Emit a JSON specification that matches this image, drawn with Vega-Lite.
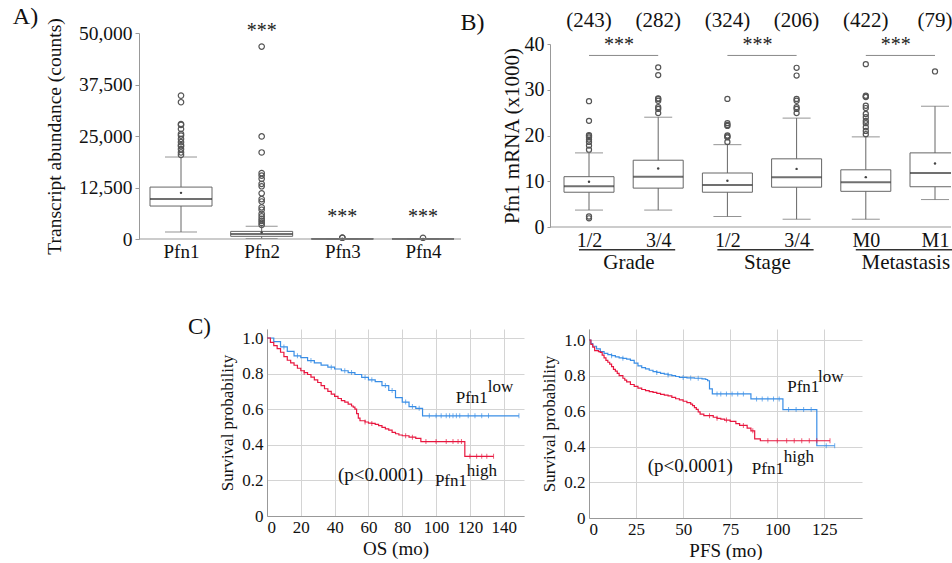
{
"$schema": "https://vega.github.io/schema/vega-lite/v6.json",
"background": "white",
"padding": {"left": 12, "top": 5, "right": 0, "bottom": 0},
"config": {
  "font": "Liberation Serif",
  "view": {"stroke": null},
  "axis": {"labelFont": "Liberation Serif", "titleFont": "Liberation Serif", "titleFontWeight": "normal", "labelColor": "#111", "titleColor": "#111", "domainColor": "#999", "tickColor": "#999"}
},
"datasets": {
  "aBox": [
    {"g": "Pfn1", "lo": 1700, "q1": 8000, "med": 9700, "q3": 12600, "hi": 19900, "mean": 11200},
    {"g": "Pfn2", "lo": 100, "q1": 650, "med": 1200, "q3": 1850, "hi": 3100, "mean": 1600},
    {"g": "Pfn3", "lo": 0, "q1": 0, "med": 30, "q3": 60, "hi": 100, "mean": 40},
    {"g": "Pfn4", "lo": 0, "q1": 0, "med": 20, "q3": 40, "hi": 80, "mean": 30}
  ],
  "aOut": [
    {"g": "Pfn1", "v": 34800}, {"g": "Pfn1", "v": 33200}, {"g": "Pfn1", "v": 27900}, {"g": "Pfn1", "v": 27700},
    {"g": "Pfn1", "v": 26700}, {"g": "Pfn1", "v": 25500}, {"g": "Pfn1", "v": 25100}, {"g": "Pfn1", "v": 24300},
    {"g": "Pfn1", "v": 23500}, {"g": "Pfn1", "v": 22800}, {"g": "Pfn1", "v": 22500}, {"g": "Pfn1", "v": 21800},
    {"g": "Pfn1", "v": 21000}, {"g": "Pfn1", "v": 20400},
    {"g": "Pfn2", "v": 46700}, {"g": "Pfn2", "v": 24900}, {"g": "Pfn2", "v": 21000}, {"g": "Pfn2", "v": 16000},
    {"g": "Pfn2", "v": 15400}, {"g": "Pfn2", "v": 14600}, {"g": "Pfn2", "v": 13400}, {"g": "Pfn2", "v": 12800},
    {"g": "Pfn2", "v": 11100}, {"g": "Pfn2", "v": 9700}, {"g": "Pfn2", "v": 9100}, {"g": "Pfn2", "v": 7700},
    {"g": "Pfn2", "v": 7100}, {"g": "Pfn2", "v": 6100}, {"g": "Pfn2", "v": 5500}, {"g": "Pfn2", "v": 4900},
    {"g": "Pfn2", "v": 4400}, {"g": "Pfn2", "v": 3900}, {"g": "Pfn2", "v": 3400},
    {"g": "Pfn3", "v": 300}, {"g": "Pfn3", "v": 350},
    {"g": "Pfn4", "v": 300}
  ],
  "aStar": [{"g": "Pfn2", "v": 49000}, {"g": "Pfn3", "v": 3900}, {"g": "Pfn4", "v": 3900}],
  "bBox": [
    {"c": "G1", "lo": 3.7, "q1": 7.6, "med": 8.9, "q3": 11.0, "hi": 16.2, "mean": 9.9, "n": "(243)"},
    {"c": "G2", "lo": 3.7, "q1": 8.5, "med": 11.0, "q3": 14.6, "hi": 24.0, "mean": 12.8, "n": "(282)"},
    {"c": "S1", "lo": 2.3, "q1": 7.6, "med": 9.2, "q3": 11.8, "hi": 18.0, "mean": 10.1, "n": "(324)"},
    {"c": "S2", "lo": 1.7, "q1": 8.7, "med": 10.9, "q3": 14.9, "hi": 23.8, "mean": 12.7, "n": "(206)"},
    {"c": "M0", "lo": 1.7, "q1": 7.8, "med": 9.8, "q3": 12.5, "hi": 19.7, "mean": 10.9, "n": "(422)"},
    {"c": "M1", "lo": 6.0, "q1": 8.8, "med": 11.8, "q3": 16.2, "hi": 26.4, "mean": 13.9, "n": "(79)"}
  ],
  "bOut": [
    {"c": "G1", "v": 27.5}, {"c": "G1", "v": 23.2}, {"c": "G1", "v": 20.1}, {"c": "G1", "v": 19.9}, {"c": "G1", "v": 19.6},
    {"c": "G1", "v": 19.1}, {"c": "G1", "v": 18.6}, {"c": "G1", "v": 17.8}, {"c": "G1", "v": 16.9}, {"c": "G1", "v": 2.3}, {"c": "G1", "v": 1.9},
    {"c": "G2", "v": 34.9}, {"c": "G2", "v": 33.2}, {"c": "G2", "v": 28.1}, {"c": "G2", "v": 28.0}, {"c": "G2", "v": 27.6},
    {"c": "G2", "v": 26.2}, {"c": "G2", "v": 25.8}, {"c": "G2", "v": 24.9},
    {"c": "S1", "v": 28.0}, {"c": "S1", "v": 22.7}, {"c": "S1", "v": 22.3}, {"c": "S1", "v": 22.1}, {"c": "S1", "v": 20.0},
    {"c": "S1", "v": 19.8}, {"c": "S1", "v": 19.6}, {"c": "S1", "v": 18.6},
    {"c": "S2", "v": 34.8}, {"c": "S2", "v": 33.1}, {"c": "S2", "v": 28.0}, {"c": "S2", "v": 27.6}, {"c": "S2", "v": 26.2},
    {"c": "S2", "v": 25.8}, {"c": "S2", "v": 24.9},
    {"c": "M0", "v": 35.6}, {"c": "M0", "v": 28.7}, {"c": "M0", "v": 28.5}, {"c": "M0", "v": 28.4}, {"c": "M0", "v": 26.5},
    {"c": "M0", "v": 26.0}, {"c": "M0", "v": 24.7}, {"c": "M0", "v": 24.0}, {"c": "M0", "v": 23.2}, {"c": "M0", "v": 22.7},
    {"c": "M0", "v": 21.8}, {"c": "M0", "v": 21.0}, {"c": "M0", "v": 20.3},
    {"c": "M1", "v": 34.0}
  ],
  "bGroup": [
    {"a": "G1", "b": "G2", "label": "Grade"},
    {"a": "S1", "b": "S2", "label": "Stage"},
    {"a": "M0", "b": "M1", "label": "Metastasis"}
  ],
  "c1": [
    {"g": "low", "t": 0, "s": 1, "c": 0}, {"g": "low", "t": 4, "s": 0.98, "c": 0}, {"g": "low", "t": 8, "s": 0.95, "c": 0},
    {"g": "low", "t": 10, "s": 0.95, "c": 1}, {"g": "low", "t": 12, "s": 0.925, "c": 0}, {"g": "low", "t": 16, "s": 0.9, "c": 0},
    {"g": "low", "t": 18, "s": 0.9, "c": 1}, {"g": "low", "t": 20, "s": 0.89, "c": 0}, {"g": "low", "t": 24, "s": 0.873, "c": 0},
    {"g": "low", "t": 26, "s": 0.873, "c": 1}, {"g": "low", "t": 28, "s": 0.86, "c": 0}, {"g": "low", "t": 32, "s": 0.848, "c": 0},
    {"g": "low", "t": 36, "s": 0.836, "c": 0}, {"g": "low", "t": 38, "s": 0.836, "c": 1}, {"g": "low", "t": 40, "s": 0.826, "c": 0},
    {"g": "low", "t": 44, "s": 0.816, "c": 0}, {"g": "low", "t": 46, "s": 0.816, "c": 1}, {"g": "low", "t": 48, "s": 0.806, "c": 0},
    {"g": "low", "t": 50, "s": 0.806, "c": 1}, {"g": "low", "t": 52, "s": 0.795, "c": 0}, {"g": "low", "t": 56, "s": 0.779, "c": 0},
    {"g": "low", "t": 58, "s": 0.779, "c": 1}, {"g": "low", "t": 60, "s": 0.765, "c": 0}, {"g": "low", "t": 62, "s": 0.765, "c": 1},
    {"g": "low", "t": 64, "s": 0.755, "c": 0}, {"g": "low", "t": 68, "s": 0.733, "c": 0}, {"g": "low", "t": 70, "s": 0.733, "c": 1},
    {"g": "low", "t": 72, "s": 0.705, "c": 0}, {"g": "low", "t": 74, "s": 0.705, "c": 1}, {"g": "low", "t": 76, "s": 0.665, "c": 0},
    {"g": "low", "t": 80, "s": 0.64, "c": 0}, {"g": "low", "t": 82, "s": 0.64, "c": 1}, {"g": "low", "t": 84, "s": 0.615, "c": 0},
    {"g": "low", "t": 86, "s": 0.615, "c": 1}, {"g": "low", "t": 88, "s": 0.605, "c": 0}, {"g": "low", "t": 90, "s": 0.605, "c": 1},
    {"g": "low", "t": 92, "s": 0.563, "c": 0}, {"g": "low", "t": 96, "s": 0.563, "c": 1}, {"g": "low", "t": 100, "s": 0.563, "c": 1},
    {"g": "low", "t": 103, "s": 0.563, "c": 1}, {"g": "low", "t": 106, "s": 0.563, "c": 1}, {"g": "low", "t": 108, "s": 0.563, "c": 1},
    {"g": "low", "t": 110, "s": 0.563, "c": 1}, {"g": "low", "t": 112, "s": 0.563, "c": 1}, {"g": "low", "t": 114, "s": 0.563, "c": 1},
    {"g": "low", "t": 119, "s": 0.563, "c": 1}, {"g": "low", "t": 123, "s": 0.563, "c": 1}, {"g": "low", "t": 127, "s": 0.563, "c": 1},
    {"g": "low", "t": 131, "s": 0.563, "c": 1}, {"g": "low", "t": 149, "s": 0.563, "c": 1},
    {"g": "high", "t": 0, "s": 1, "c": 0}, {"g": "high", "t": 2, "s": 0.975, "c": 0}, {"g": "high", "t": 4, "s": 0.957, "c": 0},
    {"g": "high", "t": 6, "s": 0.94, "c": 0}, {"g": "high", "t": 8, "s": 0.92, "c": 0}, {"g": "high", "t": 10, "s": 0.895, "c": 0},
    {"g": "high", "t": 12, "s": 0.875, "c": 0}, {"g": "high", "t": 14, "s": 0.86, "c": 0}, {"g": "high", "t": 16, "s": 0.847, "c": 0},
    {"g": "high", "t": 18, "s": 0.83, "c": 0}, {"g": "high", "t": 20, "s": 0.816, "c": 0}, {"g": "high", "t": 22, "s": 0.806, "c": 1},
    {"g": "high", "t": 24, "s": 0.795, "c": 0}, {"g": "high", "t": 26, "s": 0.78, "c": 0}, {"g": "high", "t": 28, "s": 0.765, "c": 0},
    {"g": "high", "t": 30, "s": 0.75, "c": 0}, {"g": "high", "t": 32, "s": 0.732, "c": 0}, {"g": "high", "t": 34, "s": 0.715, "c": 0},
    {"g": "high", "t": 36, "s": 0.7, "c": 0}, {"g": "high", "t": 38, "s": 0.685, "c": 0}, {"g": "high", "t": 40, "s": 0.672, "c": 0},
    {"g": "high", "t": 42, "s": 0.66, "c": 0}, {"g": "high", "t": 44, "s": 0.648, "c": 0}, {"g": "high", "t": 46, "s": 0.64, "c": 0},
    {"g": "high", "t": 48, "s": 0.628, "c": 0}, {"g": "high", "t": 50, "s": 0.618, "c": 0}, {"g": "high", "t": 51, "s": 0.612, "c": 0},
    {"g": "high", "t": 52, "s": 0.6, "c": 0}, {"g": "high", "t": 53, "s": 0.575, "c": 0}, {"g": "high", "t": 54, "s": 0.55, "c": 0},
    {"g": "high", "t": 55, "s": 0.535, "c": 0}, {"g": "high", "t": 58, "s": 0.528, "c": 1}, {"g": "high", "t": 60, "s": 0.522, "c": 0},
    {"g": "high", "t": 62, "s": 0.52, "c": 1}, {"g": "high", "t": 64, "s": 0.515, "c": 0}, {"g": "high", "t": 66, "s": 0.508, "c": 0},
    {"g": "high", "t": 68, "s": 0.498, "c": 0}, {"g": "high", "t": 70, "s": 0.49, "c": 0}, {"g": "high", "t": 72, "s": 0.482, "c": 0},
    {"g": "high", "t": 74, "s": 0.47, "c": 0}, {"g": "high", "t": 76, "s": 0.462, "c": 0}, {"g": "high", "t": 78, "s": 0.455, "c": 0},
    {"g": "high", "t": 80, "s": 0.451, "c": 0}, {"g": "high", "t": 82, "s": 0.451, "c": 1}, {"g": "high", "t": 84, "s": 0.443, "c": 0},
    {"g": "high", "t": 86, "s": 0.443, "c": 1}, {"g": "high", "t": 88, "s": 0.436, "c": 0}, {"g": "high", "t": 91, "s": 0.418, "c": 0},
    {"g": "high", "t": 94, "s": 0.418, "c": 1}, {"g": "high", "t": 100, "s": 0.418, "c": 1}, {"g": "high", "t": 106, "s": 0.418, "c": 1},
    {"g": "high", "t": 110, "s": 0.418, "c": 1}, {"g": "high", "t": 113, "s": 0.418, "c": 1}, {"g": "high", "t": 115, "s": 0.418, "c": 1},
    {"g": "high", "t": 117, "s": 0.335, "c": 0}, {"g": "high", "t": 120, "s": 0.335, "c": 1}, {"g": "high", "t": 124, "s": 0.335, "c": 1},
    {"g": "high", "t": 127, "s": 0.335, "c": 1}, {"g": "high", "t": 130, "s": 0.335, "c": 1}, {"g": "high", "t": 134, "s": 0.335, "c": 1}
  ],
  "c2": [
    {"g": "low", "t": 0, "s": 1, "c": 0}, {"g": "low", "t": 1, "s": 0.98, "c": 0}, {"g": "low", "t": 2, "s": 0.965, "c": 0},
    {"g": "low", "t": 4, "s": 0.95, "c": 0}, {"g": "low", "t": 6, "s": 0.935, "c": 0}, {"g": "low", "t": 8, "s": 0.925, "c": 0},
    {"g": "low", "t": 10, "s": 0.918, "c": 0}, {"g": "low", "t": 12, "s": 0.912, "c": 1}, {"g": "low", "t": 14, "s": 0.905, "c": 0},
    {"g": "low", "t": 16, "s": 0.9, "c": 0}, {"g": "low", "t": 18, "s": 0.897, "c": 1}, {"g": "low", "t": 20, "s": 0.893, "c": 0},
    {"g": "low", "t": 22, "s": 0.885, "c": 0}, {"g": "low", "t": 24, "s": 0.87, "c": 0}, {"g": "low", "t": 26, "s": 0.855, "c": 0},
    {"g": "low", "t": 28, "s": 0.845, "c": 0}, {"g": "low", "t": 30, "s": 0.838, "c": 0}, {"g": "low", "t": 32, "s": 0.83, "c": 0},
    {"g": "low", "t": 34, "s": 0.822, "c": 0}, {"g": "low", "t": 36, "s": 0.818, "c": 1}, {"g": "low", "t": 38, "s": 0.812, "c": 0},
    {"g": "low", "t": 40, "s": 0.808, "c": 0}, {"g": "low", "t": 42, "s": 0.804, "c": 1}, {"g": "low", "t": 44, "s": 0.8, "c": 0},
    {"g": "low", "t": 46, "s": 0.795, "c": 0}, {"g": "low", "t": 48, "s": 0.79, "c": 0}, {"g": "low", "t": 50, "s": 0.79, "c": 1},
    {"g": "low", "t": 52, "s": 0.787, "c": 0}, {"g": "low", "t": 54, "s": 0.787, "c": 1}, {"g": "low", "t": 56, "s": 0.785, "c": 0},
    {"g": "low", "t": 58, "s": 0.785, "c": 1}, {"g": "low", "t": 60, "s": 0.782, "c": 0}, {"g": "low", "t": 62, "s": 0.778, "c": 0},
    {"g": "low", "t": 63, "s": 0.771, "c": 0}, {"g": "low", "t": 64, "s": 0.725, "c": 0}, {"g": "low", "t": 65.5, "s": 0.697, "c": 0},
    {"g": "low", "t": 68, "s": 0.697, "c": 1}, {"g": "low", "t": 70, "s": 0.697, "c": 1}, {"g": "low", "t": 73, "s": 0.697, "c": 1},
    {"g": "low", "t": 76, "s": 0.697, "c": 1}, {"g": "low", "t": 79, "s": 0.697, "c": 1}, {"g": "low", "t": 82, "s": 0.697, "c": 1},
    {"g": "low", "t": 86, "s": 0.669, "c": 0}, {"g": "low", "t": 89, "s": 0.669, "c": 1}, {"g": "low", "t": 92, "s": 0.669, "c": 1},
    {"g": "low", "t": 95, "s": 0.669, "c": 1}, {"g": "low", "t": 98, "s": 0.669, "c": 1}, {"g": "low", "t": 101, "s": 0.669, "c": 1},
    {"g": "low", "t": 103, "s": 0.609, "c": 0}, {"g": "low", "t": 106, "s": 0.609, "c": 1}, {"g": "low", "t": 110, "s": 0.609, "c": 1},
    {"g": "low", "t": 114, "s": 0.609, "c": 1}, {"g": "low", "t": 118, "s": 0.609, "c": 1}, {"g": "low", "t": 121, "s": 0.406, "c": 0},
    {"g": "low", "t": 126, "s": 0.406, "c": 1}, {"g": "low", "t": 130.5, "s": 0.406, "c": 1},
    {"g": "high", "t": 0, "s": 1, "c": 0}, {"g": "high", "t": 1, "s": 0.975, "c": 0}, {"g": "high", "t": 2, "s": 0.96, "c": 0},
    {"g": "high", "t": 3, "s": 0.94, "c": 0}, {"g": "high", "t": 5, "s": 0.935, "c": 0}, {"g": "high", "t": 6, "s": 0.93, "c": 0},
    {"g": "high", "t": 7, "s": 0.915, "c": 0}, {"g": "high", "t": 8, "s": 0.9, "c": 0}, {"g": "high", "t": 9, "s": 0.885, "c": 0},
    {"g": "high", "t": 10, "s": 0.875, "c": 0}, {"g": "high", "t": 11, "s": 0.865, "c": 0}, {"g": "high", "t": 12, "s": 0.85, "c": 0},
    {"g": "high", "t": 13, "s": 0.835, "c": 0}, {"g": "high", "t": 14, "s": 0.825, "c": 0}, {"g": "high", "t": 15, "s": 0.812, "c": 0},
    {"g": "high", "t": 16, "s": 0.8, "c": 0}, {"g": "high", "t": 18, "s": 0.785, "c": 0}, {"g": "high", "t": 19, "s": 0.775, "c": 0},
    {"g": "high", "t": 20, "s": 0.765, "c": 0}, {"g": "high", "t": 22, "s": 0.75, "c": 0}, {"g": "high", "t": 24, "s": 0.74, "c": 0},
    {"g": "high", "t": 26, "s": 0.73, "c": 0}, {"g": "high", "t": 28, "s": 0.722, "c": 0}, {"g": "high", "t": 30, "s": 0.716, "c": 0},
    {"g": "high", "t": 32, "s": 0.71, "c": 0}, {"g": "high", "t": 34, "s": 0.706, "c": 0}, {"g": "high", "t": 36, "s": 0.7, "c": 0},
    {"g": "high", "t": 38, "s": 0.695, "c": 0}, {"g": "high", "t": 40, "s": 0.69, "c": 0}, {"g": "high", "t": 42, "s": 0.686, "c": 0},
    {"g": "high", "t": 44, "s": 0.678, "c": 0}, {"g": "high", "t": 46, "s": 0.67, "c": 0}, {"g": "high", "t": 48, "s": 0.664, "c": 0},
    {"g": "high", "t": 50, "s": 0.656, "c": 0}, {"g": "high", "t": 52, "s": 0.648, "c": 0}, {"g": "high", "t": 54, "s": 0.64, "c": 0},
    {"g": "high", "t": 55, "s": 0.631, "c": 0}, {"g": "high", "t": 56, "s": 0.62, "c": 0}, {"g": "high", "t": 57, "s": 0.61, "c": 0},
    {"g": "high", "t": 58, "s": 0.596, "c": 0}, {"g": "high", "t": 59, "s": 0.584, "c": 0}, {"g": "high", "t": 61, "s": 0.575, "c": 0},
    {"g": "high", "t": 64, "s": 0.575, "c": 1}, {"g": "high", "t": 66, "s": 0.566, "c": 0}, {"g": "high", "t": 68, "s": 0.56, "c": 1},
    {"g": "high", "t": 70, "s": 0.556, "c": 0}, {"g": "high", "t": 72, "s": 0.55, "c": 0}, {"g": "high", "t": 73, "s": 0.55, "c": 1},
    {"g": "high", "t": 75, "s": 0.543, "c": 0}, {"g": "high", "t": 78, "s": 0.53, "c": 0}, {"g": "high", "t": 80, "s": 0.52, "c": 0},
    {"g": "high", "t": 82, "s": 0.52, "c": 1}, {"g": "high", "t": 84, "s": 0.505, "c": 0}, {"g": "high", "t": 86, "s": 0.49, "c": 0},
    {"g": "high", "t": 87, "s": 0.49, "c": 1}, {"g": "high", "t": 88, "s": 0.444, "c": 0}, {"g": "high", "t": 91, "s": 0.434, "c": 0},
    {"g": "high", "t": 95, "s": 0.434, "c": 1}, {"g": "high", "t": 100, "s": 0.434, "c": 1}, {"g": "high", "t": 105, "s": 0.434, "c": 1},
    {"g": "high", "t": 109, "s": 0.434, "c": 1}, {"g": "high", "t": 113, "s": 0.434, "c": 1}, {"g": "high", "t": 117, "s": 0.434, "c": 1},
    {"g": "high", "t": 121, "s": 0.434, "c": 1}, {"g": "high", "t": 128, "s": 0.434, "c": 1}
  ],
  "c1Text": [
    {"k": "n", "t": 111.6, "s": 0.635, "label": "Pfn1"},
    {"k": "n", "t": 130.6, "s": 0.695, "label": "low"},
    {"k": "n", "t": 99.3, "s": 0.17, "label": "Pfn1"},
    {"k": "n", "t": 118.1, "s": 0.226, "label": "high"},
    {"k": "p", "t": 42, "s": 0.198, "label": "(p<0.0001)"},
    {"k": "panel", "t": 0, "s": 1.022, "label": "C)"}
  ],
  "c2Text": [
    {"k": "n", "t": 105.3, "s": 0.706, "label": "Pfn1"},
    {"k": "n", "t": 121.6, "s": 0.766, "label": "low"},
    {"k": "n", "t": 86.5, "s": 0.247, "label": "Pfn1"},
    {"k": "n", "t": 103.5, "s": 0.313, "label": "high"},
    {"k": "p", "t": 31.2, "s": 0.257, "label": "(p<0.0001)"}
  ]
},
"bounds": "flush",
"columns": 2,
"spacing": {"row": 90, "column": 26},
"concat": [
  {
    "width": 322,
    "height": 206,
    "layer": [
      {
        "data": {"name": "aBox"},
        "mark": {"type": "rule", "color": "#666"},
        "encoding": {
          "x": {"field": "g", "type": "nominal", "scale": {"type": "point", "domain": ["Pfn1", "Pfn2", "Pfn3", "Pfn4"], "range": [42, 284], "padding": 0},
                "axis": {"title": null, "domain": false, "ticks": false, "labelFontSize": 19, "labelPadding": 3, "labelAngle": 0}},
          "y": {"field": "lo", "type": "quantitative", "scale": {"domain": [0, 50000], "nice": false},
                "axis": {"title": "Transcript abundance (counts)", "titleFontSize": 19.5, "values": [0, 12500, 25000, 37500, 50000], "format": ",.0f", "labelFontSize": 19.5, "labelOverlap": false, "tickSize": 4, "labelPadding": 3, "grid": false, "titlePadding": 14}},
          "y2": {"field": "hi"}
        }
      },
      {
        "data": {"name": "aBox"},
        "mark": {"type": "tick", "color": "#666", "size": 32, "thickness": 1},
        "encoding": {"x": {"field": "g", "type": "nominal"}, "y": {"field": "lo", "type": "quantitative"}}
      },
      {
        "data": {"name": "aBox"},
        "mark": {"type": "tick", "color": "#666", "size": 32, "thickness": 1},
        "encoding": {"x": {"field": "g", "type": "nominal"}, "y": {"field": "hi", "type": "quantitative"}}
      },
      {
        "data": {"name": "aBox"},
        "mark": {"type": "bar", "width": 62, "fill": "white", "stroke": "#666", "strokeWidth": 1},
        "encoding": {"x": {"field": "g", "type": "nominal"}, "y": {"field": "q1", "type": "quantitative"}, "y2": {"field": "q3"}}
      },
      {
        "data": {"name": "aBox"},
        "mark": {"type": "tick", "color": "#333", "size": 62, "thickness": 2},
        "encoding": {"x": {"field": "g", "type": "nominal"}, "y": {"field": "med", "type": "quantitative"}}
      },
      {
        "data": {"name": "aBox"},
        "mark": {"type": "point", "filled": true, "size": 6, "color": "#444", "opacity": 1},
        "encoding": {"x": {"field": "g", "type": "nominal"}, "y": {"field": "mean", "type": "quantitative"}}
      },
      {
        "data": {"name": "aOut"},
        "mark": {"type": "point", "filled": false, "size": 30, "stroke": "#555", "strokeWidth": 1.2, "opacity": 1},
        "encoding": {"x": {"field": "g", "type": "nominal"}, "y": {"field": "v", "type": "quantitative"}}
      },
      {
        "data": {"name": "aStar"},
        "mark": {"type": "text", "fontSize": 20, "baseline": "alphabetic", "color": "#222"},
        "encoding": {"x": {"field": "g", "type": "nominal"}, "y": {"field": "v", "type": "quantitative"}, "text": {"value": "***"}}
      },
      {
        "data": {"values": [{"p": "A)"}]},
        "mark": {"type": "text", "fontSize": 24, "baseline": "alphabetic", "align": "center", "dx": -155.5, "color": "#111"},
        "encoding": {"x": {"datum": "Pfn1", "type": "nominal"}, "y": {"datum": 52180, "type": "quantitative"}, "text": {"field": "p"}}
      },
      {
        "data": {"values": [{}]},
        "mark": {"type": "rule", "color": "#999"},
        "encoding": {"y": {"datum": 0, "type": "quantitative"}}
      }
    ]
  },
  {
    "width": 401,
    "height": 194,
    "layer": [
      {
        "data": {"name": "bBox"},
        "mark": {"type": "rule", "color": "#666"},
        "encoding": {
          "x": {"field": "c", "type": "nominal", "scale": {"type": "point", "domain": ["G1", "G2", "S1", "S2", "M0", "M1"], "range": [39, 385], "padding": 0},
                "axis": {"title": null, "domain": false, "ticks": false, "labelFontSize": 20, "labelPadding": 3, "labelAngle": 0,
                         "labelExpr": "(datum.value == 'G1' || datum.value == 'S1') ? '1/2' : ((datum.value == 'G2' || datum.value == 'S2') ? '3/4' : datum.value)"}},
          "y": {"field": "lo", "type": "quantitative", "scale": {"domain": [0, 40], "range": [194, 11], "nice": false},
                "axis": {"title": "Pfn1 mRNA (x1000)", "titleFontSize": 21, "values": [0, 10, 20, 30, 40], "format": ".0f", "labelFontSize": 20, "labelOverlap": false, "tickSize": 3, "labelPadding": 3, "titlePadding": 2, "grid": false}},
          "y2": {"field": "hi"}
        }
      },
      {
        "data": {"name": "bBox"},
        "mark": {"type": "tick", "color": "#666", "size": 28, "thickness": 1},
        "encoding": {"x": {"field": "c", "type": "nominal"}, "y": {"field": "lo", "type": "quantitative"}}
      },
      {
        "data": {"name": "bBox"},
        "mark": {"type": "tick", "color": "#666", "size": 28, "thickness": 1},
        "encoding": {"x": {"field": "c", "type": "nominal"}, "y": {"field": "hi", "type": "quantitative"}}
      },
      {
        "data": {"name": "bBox"},
        "mark": {"type": "bar", "width": 50, "fill": "white", "stroke": "#666", "strokeWidth": 1, "clip": true},
        "encoding": {"x": {"field": "c", "type": "nominal"}, "y": {"field": "q1", "type": "quantitative"}, "y2": {"field": "q3"}}
      },
      {
        "data": {"name": "bBox"},
        "mark": {"type": "tick", "color": "#333", "size": 50, "thickness": 2, "clip": true},
        "encoding": {"x": {"field": "c", "type": "nominal"}, "y": {"field": "med", "type": "quantitative"}}
      },
      {
        "data": {"name": "bBox"},
        "mark": {"type": "point", "filled": true, "size": 6, "color": "#444", "opacity": 1},
        "encoding": {"x": {"field": "c", "type": "nominal"}, "y": {"field": "mean", "type": "quantitative"}}
      },
      {
        "data": {"name": "bOut"},
        "mark": {"type": "point", "filled": false, "size": 26, "stroke": "#555", "strokeWidth": 1.2, "opacity": 1},
        "encoding": {"x": {"field": "c", "type": "nominal"}, "y": {"field": "v", "type": "quantitative"}}
      },
      {
        "data": {"name": "bBox"},
        "mark": {"type": "text", "fontSize": 21, "baseline": "alphabetic", "color": "#111"},
        "encoding": {"x": {"field": "c", "type": "nominal"}, "y": {"datum": 43.65, "type": "quantitative"}, "text": {"field": "n"}}
      },
      {
        "data": {"name": "bGroup"},
        "mark": {"type": "rule", "color": "#888", "strokeWidth": 1},
        "encoding": {"x": {"field": "a", "type": "nominal"}, "x2": {"field": "b"}, "y": {"datum": 37.5, "type": "quantitative"}}
      },
      {
        "data": {"name": "bGroup"},
        "mark": {"type": "text", "fontSize": 20, "baseline": "alphabetic", "dx": 30, "color": "#222"},
        "encoding": {"x": {"field": "a", "type": "nominal"}, "y": {"datum": 38.5, "type": "quantitative"}, "text": {"value": "***"}}
      },
      {
        "data": {"name": "bGroup"},
        "mark": {"type": "rule", "color": "#333", "strokeWidth": 1.5, "xOffset": -10, "x2Offset": 17},
        "encoding": {"x": {"field": "a", "type": "nominal"}, "x2": {"field": "b"}, "y": {"datum": -4.96, "type": "quantitative"}}
      },
      {
        "data": {"name": "bGroup"},
        "mark": {"type": "text", "fontSize": 21, "baseline": "alphabetic", "dx": 40, "color": "#111"},
        "encoding": {"x": {"field": "a", "type": "nominal"}, "y": {"datum": -9.18, "type": "quantitative"}, "text": {"field": "label"}}
      },
      {
        "data": {"values": [{"p": "B)"}]},
        "mark": {"type": "text", "fontSize": 24, "baseline": "alphabetic", "align": "center", "dx": -116.5, "color": "#111"},
        "encoding": {"x": {"datum": "G1", "type": "nominal"}, "y": {"datum": 43.06, "type": "quantitative"}, "text": {"field": "p"}}
      },
      {
        "data": {"values": [{}]},
        "mark": {"type": "rule", "color": "#999"},
        "encoding": {"y": {"datum": 0, "type": "quantitative"}}
      }
    ]
  },
  {
    "width": 385,
    "height": 187,
    "layer": [
      {
        "data": {"name": "c1"},
        "mark": {"type": "line", "interpolate": "step-after", "strokeWidth": 1.2},
        "encoding": {
          "x": {"field": "t", "type": "quantitative", "scale": {"domain": [0, 152], "range": [128, 385], "nice": false},
                "axis": {"title": "OS (mo)", "values": [0, 20, 40, 60, 80, 100, 120, 140], "format": ".0f", "labelOverlap": false, "grid": true, "gridColor": "#d4d4d4", "ticks": false, "labelFontSize": 17, "titleFontSize": 19, "labelPadding": 3, "titlePadding": 4}},
          "y": {"field": "s", "type": "quantitative", "scale": {"domain": [0, 1.0506], "nice": false},
                "axis": {"title": "Survival probability", "offset": -128, "values": [0, 0.2, 0.4, 0.6, 0.8, 1], "tickCount": 6, "format": ".1f", "labelExpr": "datum.value == 0 ? '0' : datum.label", "labelOverlap": false, "labelFlush": false, "labelBound": false, "grid": true, "gridColor": "#d4d4d4", "ticks": false, "labelFontSize": 17, "titleFontSize": 17, "labelPadding": 4, "titlePadding": 5}},
          "color": {"field": "g", "type": "nominal", "scale": {"domain": ["low", "high"], "range": ["#3a8ee6", "#e8173f"]}, "legend": null}
        }
      },
      {
        "data": {"name": "c1"},
        "transform": [{"filter": "datum.c == 1"}],
        "mark": {"type": "tick", "orient": "vertical", "size": 5, "thickness": 1},
        "encoding": {
          "x": {"field": "t", "type": "quantitative"},
          "y": {"field": "s", "type": "quantitative"},
          "color": {"field": "g", "type": "nominal", "legend": null}
        }
      },
      {
        "data": {"name": "c1Text"},
        "transform": [{"filter": "datum.k == 'n'"}],
        "mark": {"type": "text", "fontSize": 17, "align": "left", "baseline": "alphabetic", "color": "#111"},
        "encoding": {"x": {"field": "t", "type": "quantitative"}, "y": {"field": "s", "type": "quantitative"}, "text": {"field": "label"}}
      },
      {
        "data": {"name": "c1Text"},
        "transform": [{"filter": "datum.k == 'p'"}],
        "mark": {"type": "text", "fontSize": 19, "align": "left", "baseline": "alphabetic", "color": "#111"},
        "encoding": {"x": {"field": "t", "type": "quantitative"}, "y": {"field": "s", "type": "quantitative"}, "text": {"field": "label"}}
      },
      {
        "data": {"name": "c1Text"},
        "transform": [{"filter": "datum.k == 'panel'"}],
        "mark": {"type": "text", "fontSize": 23, "align": "center", "baseline": "alphabetic", "dx": -67.5, "color": "#111"},
        "encoding": {"x": {"field": "t", "type": "quantitative"}, "y": {"field": "s", "type": "quantitative"}, "text": {"field": "label"}}
      }
    ]
  },
  {
    "width": 312,
    "height": 189,
    "layer": [
      {
        "data": {"name": "c2"},
        "mark": {"type": "line", "interpolate": "step-after", "strokeWidth": 1.2},
        "encoding": {
          "x": {"field": "t", "type": "quantitative", "scale": {"domain": [0, 145], "range": [39, 312], "nice": false},
                "axis": {"title": "PFS (mo)", "values": [0, 25, 50, 75, 100, 125], "format": ".0f", "labelOverlap": false, "grid": true, "gridColor": "#d4d4d4", "ticks": false, "labelFontSize": 17, "titleFontSize": 19, "labelPadding": 3, "titlePadding": 4}},
          "y": {"field": "s", "type": "quantitative", "scale": {"domain": [0, 1.0618], "nice": false},
                "axis": {"title": "Survival probability", "offset": -39, "values": [0, 0.2, 0.4, 0.6, 0.8, 1], "tickCount": 6, "format": ".1f", "labelExpr": "datum.value == 0 ? '0' : datum.label", "labelOverlap": false, "labelFlush": false, "labelBound": false, "grid": true, "gridColor": "#d4d4d4", "ticks": false, "labelFontSize": 17, "titleFontSize": 17, "labelPadding": 4, "titlePadding": 5}},
          "color": {"field": "g", "type": "nominal", "scale": {"domain": ["low", "high"], "range": ["#3a8ee6", "#e8173f"]}, "legend": null}
        }
      },
      {
        "data": {"name": "c2"},
        "transform": [{"filter": "datum.c == 1"}],
        "mark": {"type": "tick", "orient": "vertical", "size": 5, "thickness": 1},
        "encoding": {
          "x": {"field": "t", "type": "quantitative"},
          "y": {"field": "s", "type": "quantitative"},
          "color": {"field": "g", "type": "nominal", "legend": null}
        }
      },
      {
        "data": {"name": "c2Text"},
        "transform": [{"filter": "datum.k == 'n'"}],
        "mark": {"type": "text", "fontSize": 17, "align": "left", "baseline": "alphabetic", "color": "#111"},
        "encoding": {"x": {"field": "t", "type": "quantitative"}, "y": {"field": "s", "type": "quantitative"}, "text": {"field": "label"}}
      },
      {
        "data": {"name": "c2Text"},
        "transform": [{"filter": "datum.k == 'p'"}],
        "mark": {"type": "text", "fontSize": 19, "align": "left", "baseline": "alphabetic", "color": "#111"},
        "encoding": {"x": {"field": "t", "type": "quantitative"}, "y": {"field": "s", "type": "quantitative"}, "text": {"field": "label"}}
      }
    ]
  }
]
}
